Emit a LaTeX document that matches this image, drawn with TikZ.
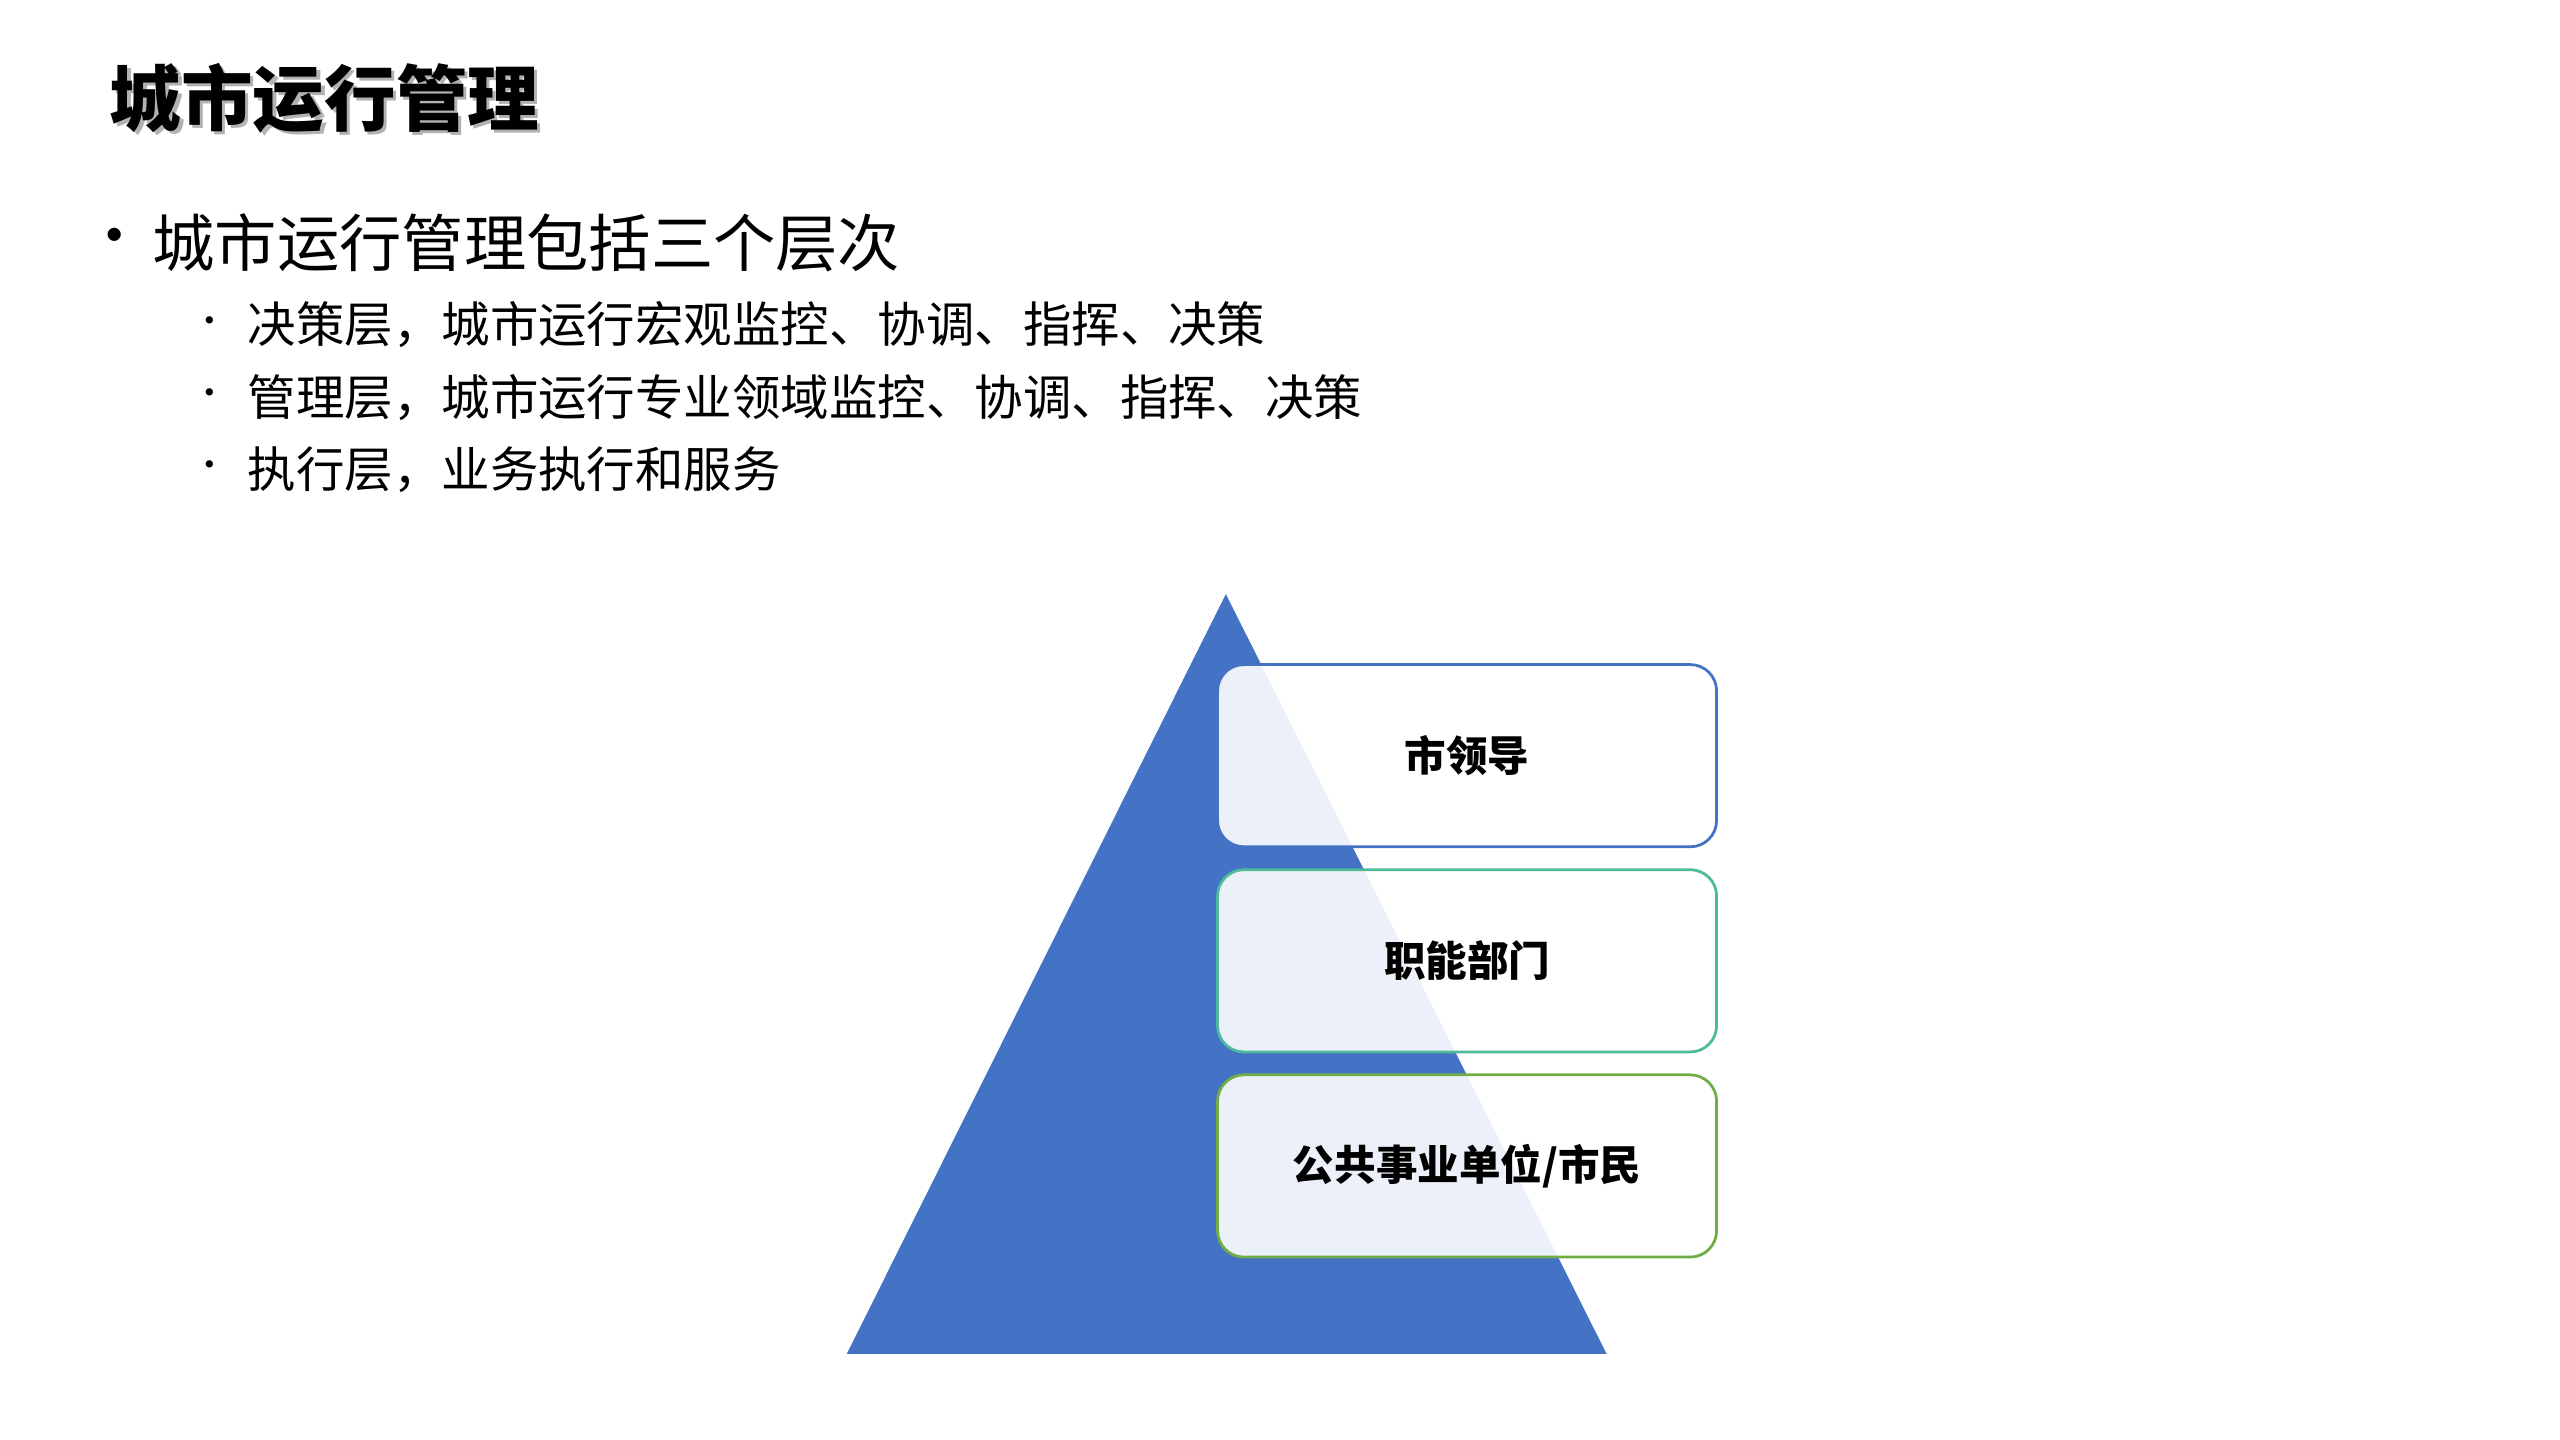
\documentclass[tikz,border=0pt]{standalone}
\usepackage{fontspec}
\newfontfamily\cjk{Noto Sans CJK SC}
\definecolor{triblue}{HTML}{4472C4}
\definecolor{tealb}{HTML}{4DBB9B}
\definecolor{greenb}{HTML}{70AD47}
\begin{document}
\begin{tikzpicture}[x=0.025cm,y=-0.025cm,
  lvl/.style={draw,line width=1.2pt,rounded corners=0.4cm,fill=white,fill opacity=0.9,text opacity=1,minimum width=7.6cm,minimum height=2.775cm,font=\cjk\bfseries\fontsize{18}{20}\selectfont},
  sub/.style={anchor=west,font=\cjk\fontsize{21}{24}\selectfont}]
\useasboundingbox (0,0) rectangle (1560,877.5);
\node[anchor=west,font=\cjk\bfseries\fontsize{31}{36}\selectfont,text=gray!60] (tsh) at (64,62) {城市运行管理};
\node[anchor=west,font=\cjk\bfseries\fontsize{31}{36}\selectfont] (title) at (62,60) {城市运行管理};
\node[font=\cjk\fontsize{27}{30}\selectfont] (b0) at (70,148) {•};
\node[anchor=west,font=\cjk\fontsize{27}{30}\selectfont] (t0) at (88,148) {城市运行管理包括三个层次};
\node[font=\cjk\fontsize{15}{18}\selectfont] (b1) at (128,198) {•};
\node[sub] (t1) at (146,198) {决策层，城市运行宏观监控、协调、指挥、决策};
\node[font=\cjk\fontsize{15}{18}\selectfont] (b2) at (128,242) {•};
\node[sub] (t2) at (146,242) {管理层，城市运行专业领域监控、协调、指挥、决策};
\node[font=\cjk\fontsize{15}{18}\selectfont] (b3) at (128,286) {•};
\node[sub] (t3) at (146,286) {执行层，业务执行和服务};
\fill[triblue] (747,362) -- (979,825) -- (516,825) -- cycle;
\node[lvl,draw=triblue] (l1) at (894,460.5) {市领导};
\node[lvl,draw=tealb] (l2) at (894,585.5) {职能部门};
\node[lvl,draw=greenb] (l3) at (894,710.5) {公共事业单位/市民};
\end{tikzpicture}
\end{document}
